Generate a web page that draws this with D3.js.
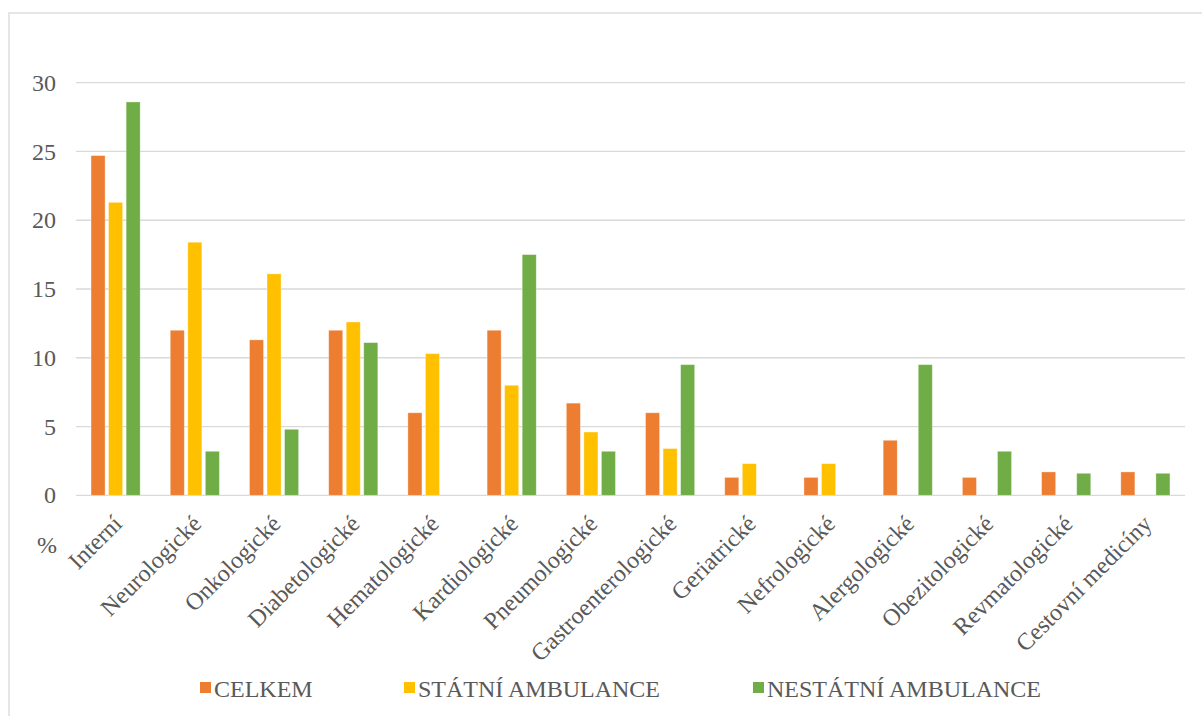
<!DOCTYPE html>
<html lang="cs">

<head>
    <meta charset="UTF-8">
    <title>Ambulance podle oboru</title>
    <script src="https://d3js.org/d3.v7.min.js"></script>
    <style>
        body {
            margin: 0;
            background: #fff;
        }

        svg {
            font-family: "Liberation Serif", "Times New Roman", serif;
        }

        text {
            font-family: "Liberation Serif", "Times New Roman", serif;
            fill: #595959;
        }

        .grid line {
            stroke: #d9d9d9;
            stroke-width: 1.3;
        }
    </style>
</head>

<body>
    <svg class="chart"></svg>
    <script>
        // Data
        const categories = ["Interní", "Neurologické", "Onkologické", "Diabetologické", "Hematologické",
            "Kardiologické", "Pneumologické", "Gastroenterologické", "Geriatrické", "Nefrologické",
            "Alergologické", "Obezitologické", "Revmatologické", "Cestovní medicíny"];
        const seriesNames = ["CELKEM", "STÁTNÍ AMBULANCE", "NESTÁTNÍ AMBULANCE"];
        const celkem = [24.7, 12.0, 11.3, 12.0, 6.0, 12.0, 6.7, 6.0, 1.3, 1.3, 4.0, 1.3, 1.7, 1.7];
        const statni = [21.3, 18.4, 16.1, 12.6, 10.3, 8.0, 4.6, 3.4, 2.3, 2.3, 0, 0, 0, 0];
        const nestatni = [28.6, 3.2, 4.8, 11.1, 0, 17.5, 3.2, 9.5, 0, 0, 9.5, 3.2, 1.6, 1.6];
        const yTicks = [0, 5, 10, 15, 20, 25, 30];
        const colors = ["#ED7D31", "#FFC000", "#70AD47"];

        // Dimensions
        const width = 1202;
        const height = 716;
        const plot = { left: 76, right: 1185, top: 82.7, bottom: 495.3 };

        const svg = d3.select(".chart")
            .attr("width", width)
            .attr("height", height);

        // chart frame (runs off the right and bottom edge)
        svg.append("rect")
            .attr("x", 9)
            .attr("y", 13)
            .attr("width", 1220)
            .attr("height", 740)
            .attr("fill", "none")
            .attr("stroke", "#d9d9d9")
            .attr("stroke-width", 1.3);

        const rows = categories.map((c, i) => ({ cat: c, values: [celkem[i], statni[i], nestatni[i]] }));

        // Scales
        const x0 = d3.scaleBand()
            .domain(categories)
            .range([plot.left, plot.right])
            .paddingInner(0.38)
            .paddingOuter(0.19);

        const x1 = d3.scaleBand()
            .domain(d3.range(seriesNames.length))
            .range([0, x0.bandwidth()])
            .paddingInner(0.2);

        const y = d3.scaleLinear()
            .domain([0, 30])
            .range([plot.bottom, plot.top]);

        // Gridlines
        svg.append("g")
            .attr("class", "grid")
            .selectAll("line")
            .data(yTicks)
            .join("line")
            .attr("x1", plot.left)
            .attr("x2", plot.right)
            .attr("y1", d => y(d))
            .attr("y2", d => y(d));

        // Y axis labels
        const yAxis = d3.axisLeft(y).tickValues(yTicks).tickSize(0).tickPadding(0);
        const yg = svg.append("g")
            .attr("transform", `translate(56,0)`)
            .attr("font-family", null)
            .call(yAxis);
        yg.attr("font-family", null);
        yg.select(".domain").remove();
        yg.selectAll("text")
            .attr("font-size", "24px")
            .attr("fill", null);

        // Bars
        svg.append("g")
            .selectAll("g")
            .data(rows)
            .join("g")
            .attr("transform", d => `translate(${x0(d.cat)},0)`)
            .selectAll("rect")
            .data(d => d.values.map((v, k) => ({ v, k })).filter(e => e.v > 0))
            .join("rect")
            .attr("x", d => x1(d.k))
            .attr("y", d => y(d.v))
            .attr("width", x1.bandwidth())
            .attr("height", d => y(0) - y(d.v))
            .attr("fill", d => colors[d.k])
            .attr("stroke", "#fff")
            .attr("stroke-opacity", 0.4)
            .attr("stroke-width", 0.8);

        // Category labels, rotated
        svg.append("g")
            .selectAll("text")
            .data(categories)
            .join("text")
            .attr("transform", d => {
                const cx = x0(d) + x0.bandwidth() / 2 - 4;
                return `translate(${cx},${plot.bottom + 18}) rotate(-45)`;
            })
            .attr("text-anchor", "end")
            .attr("dy", "0.7em")
            .attr("font-size", "24px")
            .text(d => d);

        // unit label
        svg.append("text")
            .attr("x", 37)
            .attr("y", 553)
            .attr("font-size", "24px")
            .text("%");

        // Legend
        const legendX = [200, 404, 753];
        const legend = svg.append("g")
            .selectAll("g")
            .data(seriesNames)
            .join("g")
            .attr("transform", (d, i) => `translate(${legendX[i]},688)`);

        legend.append("rect")
            .attr("x", 0)
            .attr("y", -6)
            .attr("width", 11)
            .attr("height", 11)
            .attr("fill", (d, i) => colors[i]);

        legend.append("text")
            .attr("x", 14)
            .attr("y", 9)
            .attr("font-size", "24px")
            .text(d => d);
    </script>
</body>

</html>
